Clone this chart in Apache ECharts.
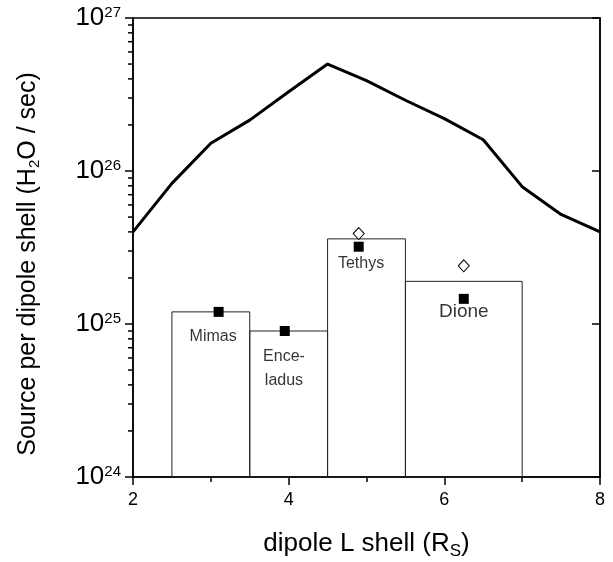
<!DOCTYPE html>
<html>
<head>
<meta charset="utf-8">
<script src="https://cdn.jsdelivr.net/npm/echarts@6/dist/echarts.min.js"></script>
<style>
html, body { margin: 0; padding: 0; background: #fff; }
#chart { width: 613px; height: 562px; }
</style>
</head>
<body>
<div id="chart"></div>
<script>
// total source curve
var lineX = [2, 2.5, 3, 3.5, 4, 4.5, 5, 5.5, 6, 6.5, 7, 7.5, 8]
var lineY = [4.0e25, 8.3e25, 1.52e26, 2.15e26, 3.3e26, 5.0e26, 3.9e26, 2.9e26, 2.2e26, 1.6e26, 7.9e25, 5.2e25, 4.0e25]

// moon boxes
var barLeft = [2.5, 3.5, 4.5, 5.5]
var barRight = [3.5, 4.5, 5.5, 7]
var barTop = [1.2e25, 9.0e24, 3.6e25, 1.9e25]

// filled squares and open diamonds
var squareX = [3.1, 3.95, 4.9, 6.25]
var squareY = [1.2e25, 9.0e24, 3.2e25, 1.46e25]
var diamondX = [4.9, 6.25]
var diamondY = [3.9e25, 2.4e25]

// moon names
var labelText = ['Mimas', 'Ence-\nladus', 'Tethys', 'Dione']
var labelX = [3.03, 3.94, 4.93, 6.25]
var labelY = [8.3e24, 5.1e24, 2.5e25, 1.2e25]

// log minor ticks on the left axis
var yMinorTicks = [2e24, 3e24, 4e24, 5e24, 6e24, 7e24, 8e24, 9e24,
  2e25, 3e25, 4e25, 5e25, 6e25, 7e25, 8e25, 9e25,
  2e26, 3e26, 4e26, 5e26, 6e26, 7e26, 8e26, 9e26]

var FONT = 'Liberation Sans, Arial, sans-serif'
var chart = echarts.init(document.getElementById('chart'))

var option = {
  animation: false,
  backgroundColor: '#fff',
  graphic: [{
    // y axis title, a bit below the middle of the axis like the original
    type: 'text',
    x: 28,
    y: 264,
    rotation: Math.PI / 2,
    style: {
      text: '{a|Source per dipole shell (H}{s|2}{a|O / sec)}',
      align: 'center',
      verticalAlign: 'middle',
      rich: {
        a: { fontFamily: FONT, fontSize: 25, fill: '#000' },
        s: { fontFamily: FONT, fontSize: 15, fill: '#000', verticalAlign: 'bottom', padding: [14, 0, 0, 0] }
      }
    }
  }],
  grid: {
    left: 133,
    right: 13,
    top: 18,
    bottom: 85,
    outerBoundsMode: 'none',
    show: true,
    borderColor: '#000',
    borderWidth: 1.5,
    backgroundColor: 'transparent'
  },
  xAxis: {
    type: 'value',
    min: 2,
    max: 8,
    interval: 2,
    name: '{a|dipole L shell (R}{s|S}{a|)}',
    nameLocation: 'middle',
    nameGap: 51,
    nameTextStyle: {
      rich: {
        a: { fontFamily: FONT, fontSize: 26, color: '#000' },
        s: { fontFamily: FONT, fontSize: 17, color: '#000', verticalAlign: 'bottom', padding: [15, 0, 0, 0] }
      }
    },
    splitLine: { show: false },
    axisLine: { lineStyle: { color: '#000', width: 1.5 } },
    axisTick: { length: 8, lineStyle: { color: '#000', width: 1.5 } },
    minorTick: { show: true, splitNumber: 2, length: 5, lineStyle: { color: '#000', width: 1.5 } },
    axisLabel: { color: '#000', fontFamily: FONT, fontSize: 18, margin: 14 }
  },
  yAxis: [{
    type: 'log',
    logBase: 10,
    min: 1e24,
    max: 1e27,
    interval: 1,
    splitLine: { show: false },
    axisLine: { show: true, lineStyle: { color: '#000', width: 1.5 } },
    axisTick: { length: 8, lineStyle: { color: '#000', width: 1.5 } },
    axisLabel: {
      margin: 12,
      formatter: function (v) {
        return '{b|10}{s|' + Math.round(Math.log10(v)) + '}'
      },
      rich: {
        b: { fontFamily: FONT, fontSize: 26, color: '#000', lineHeight: 26, verticalAlign: 'bottom', padding: [4, 0, 0, 0] },
        s: { fontFamily: FONT, fontSize: 15, color: '#000', lineHeight: 15, verticalAlign: 'top' }
      }
    }
  }, {
    type: 'log',
    logBase: 10,
    min: 1e24,
    max: 1e27,
    interval: 1,
    position: 'right',
    splitLine: { show: false },
    axisLine: { show: true, lineStyle: { color: '#000', width: 1.5 } },
    axisTick: { inside: true, length: 8, lineStyle: { color: '#000', width: 1.5 } },
    axisLabel: { show: false }
  }],
  series: [
    {
      type: 'custom',
      name: 'minorTicks',
      clip: false,
      silent: true,
      data: yMinorTicks.map(function (v) { return [2, v] }),
      renderItem: function (params, api) {
        var p = api.coord([api.value(0), api.value(1)])
        return {
          type: 'line',
          shape: { x1: p[0] - 5, y1: p[1], x2: p[0], y2: p[1] },
          style: { stroke: '#000', lineWidth: 1.5 }
        }
      }
    },
    {
      type: 'custom',
      name: 'boxes',
      silent: true,
      data: barLeft.map(function (x0, i) { return [x0, barRight[i], barTop[i]] }),
      renderItem: function (params, api) {
        var p0 = api.coord([api.value(0), api.value(2)])
        var p1 = api.coord([api.value(1), 1e24])
        return {
          type: 'rect',
          shape: { x: p0[0], y: p0[1], width: p1[0] - p0[0], height: p1[1] - p0[1] },
          style: { fill: 'transparent', stroke: '#222', lineWidth: 1 }
        }
      }
    },
    {
      type: 'line',
      data: lineX.map(function (x, i) { return [x, lineY[i]] }),
      symbol: 'none',
      lineStyle: { color: '#000', width: 3 }
    },
    {
      type: 'scatter',
      data: squareX.map(function (x, i) { return [x, squareY[i]] }),
      symbol: 'rect',
      symbolSize: 10,
      itemStyle: { color: '#000', opacity: 1 }
    },
    {
      type: 'scatter',
      data: diamondX.map(function (x, i) { return [x, diamondY[i]] }),
      symbol: 'diamond',
      symbolSize: [11, 12],
      itemStyle: { color: '#fff', borderColor: '#000', borderWidth: 1, opacity: 1 }
    },
    {
      type: 'scatter',
      silent: true,
      symbolSize: 0,
      data: labelX.map(function (x, i) {
        return {
          value: [x, labelY[i]],
          label: { fontSize: i === 3 ? 19 : 16, lineHeight: i === 3 ? 21 : 24 }
        }
      }),
      label: {
        show: true,
        position: 'inside',
        color: '#000',
        fontFamily: FONT,
        formatter: function (p) { return labelText[p.dataIndex] }
      }
    }
  ]
}

chart.setOption(option)
</script>
</body>
</html>
